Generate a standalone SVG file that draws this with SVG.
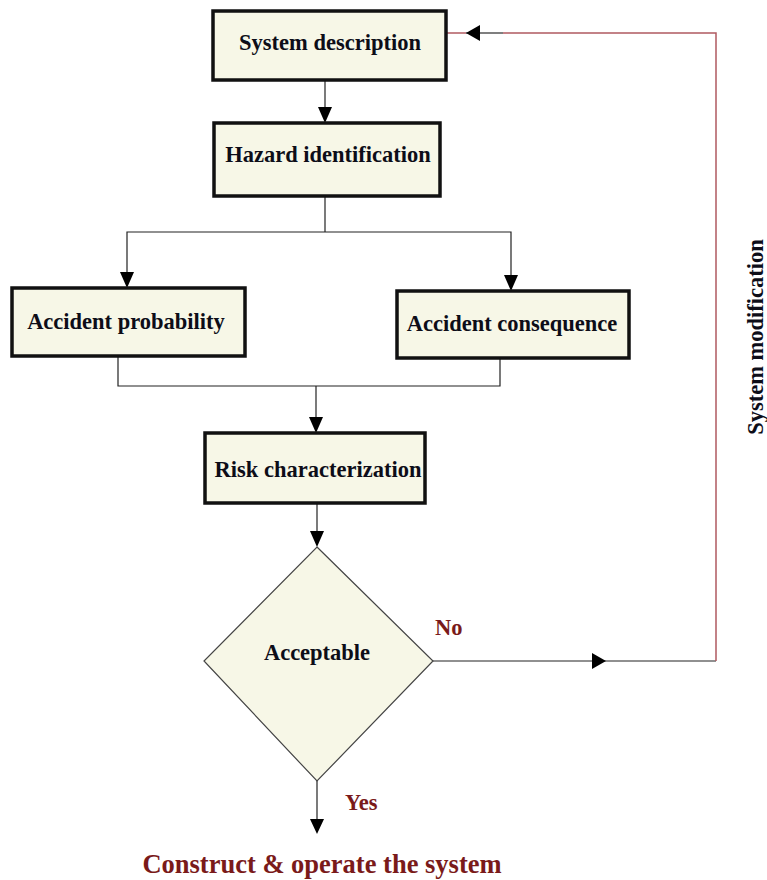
<svg xmlns="http://www.w3.org/2000/svg" width="767" height="880" viewBox="0 0 767 880">
  <style>
    .box { fill: #f7f7e7; stroke: #111; stroke-width: 3.5; }
    .dia { fill: #f7f7e7; stroke: #444; stroke-width: 1.2; }
    .lbl { font-family: "Liberation Serif", "Times New Roman", serif; font-weight: bold; font-size: 22.5px; fill: #0d0d18; text-anchor: middle; }
    .red { font-family: "Liberation Serif", "Times New Roman", serif; font-weight: bold; fill: #7a1a1a; }
    .ln { fill: none; stroke: #222; stroke-width: 1.2; }
    .fb { fill: none; stroke: #b05a60; stroke-width: 1.5; }
    .ah { fill: #000; }
  </style>
  <rect width="767" height="880" fill="#fff"/>

  <!-- connectors -->
  <g id="connectors">
    <!-- System description -> Hazard identification -->
    <line class="ln" x1="325" y1="80" x2="325" y2="110"/>
    <polygon class="ah" points="318,107 332,107 325,123"/>
    <!-- Hazard identification -> split -->
    <polyline class="ln" points="325,196 325,232"/>
    <polyline class="ln" points="127,276 127,232 511,232 511,278"/>
    <polygon class="ah" points="120,272 134,272 127,288"/>
    <polygon class="ah" points="504,275 518,275 511,291"/>
    <!-- merge -> Risk characterization -->
    <polyline class="ln" points="118,356 118,386 500,386 500,358"/>
    <line class="ln" x1="316" y1="386" x2="316" y2="420"/>
    <polygon class="ah" points="309,417 323,417 316,433"/>
    <!-- Risk characterization -> Acceptable -->
    <line class="ln" x1="317" y1="503" x2="317" y2="534"/>
    <polygon class="ah" points="310,531 324,531 317,547"/>
    <!-- No branch -->
    <line class="ln" x1="433" y1="661" x2="716" y2="661"/>
    <polygon class="ah" points="592,653 592,669 606,661"/>
    <!-- feedback to System description -->
    <polyline class="fb" points="716,661 716,33 503,33"/>
    <line class="fb" x1="446" y1="33" x2="466" y2="33"/>
    <line stroke="#555" stroke-width="1.5" x1="466" y1="33" x2="503" y2="33"/>
    <polygon class="ah" points="466,33 480,25 480,41"/>
    <!-- Yes branch -->
    <line class="ln" x1="317" y1="781" x2="317" y2="822"/>
    <polygon class="ah" points="310,819 324,819 317,834"/>
  </g>

  <g id="system-description">
    <rect class="box" x="213" y="11" width="233" height="69"/>
    <text class="lbl" x="330" y="50">System description</text>
  </g>

  <g id="hazard-identification">
    <rect class="box" x="214" y="123" width="226" height="73"/>
    <text class="lbl" x="328" y="162">Hazard identification</text>
  </g>

  <g id="accident-probability">
    <rect class="box" x="12" y="288" width="233" height="68"/>
    <text class="lbl" x="126" y="329">Accident probability</text>
  </g>

  <g id="accident-consequence">
    <rect class="box" x="397" y="291" width="232" height="67"/>
    <text class="lbl" x="512" y="331">Accident consequence</text>
  </g>

  <g id="risk-characterization">
    <rect class="box" x="205" y="433" width="220" height="70"/>
    <text class="lbl" x="318" y="477">Risk characterization</text>
  </g>

  <g id="acceptable">
    <polygon class="dia" points="317,547 433,661 317,781 204,661"/>
    <text class="lbl" x="317" y="660">Acceptable</text>
  </g>

  <g id="labels">
    <text class="red" x="435" y="635" font-size="22.5">No</text>
    <text class="red" x="345" y="810" font-size="22.5">Yes</text>
    <text class="red" x="322" y="873" font-size="26.5" text-anchor="middle">Construct &amp; operate the system</text>
    <text class="lbl" font-size="30" transform="translate(763,337) rotate(-90)">System modification</text>
  </g>
</svg>
